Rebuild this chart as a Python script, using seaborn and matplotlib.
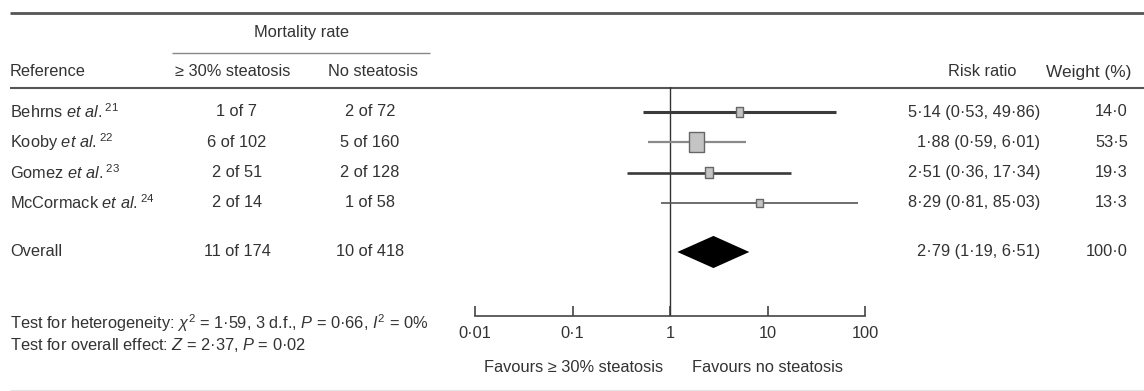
import numpy as np
import pandas as pd
import matplotlib
matplotlib.use("Agg")
import matplotlib.pyplot as plt
import matplotlib.transforms as mtransforms
import seaborn as sns

# data
studies = [r"Behrns $\mathit{et\ al.}{}^{21}$", r"Kooby $\mathit{et\ al.}{}^{22}$",
           r"Gomez $\mathit{et\ al.}{}^{23}$", r"McCormack $\mathit{et\ al.}{}^{24}$"]
events_steatosis = ["1 of 7", "6 of 102", "2 of 51", "2 of 14"]
events_none = ["2 of 72", "5 of 160", "2 of 128", "1 of 58"]
rr = [5.14, 1.88, 2.51, 8.29]
rr_low = [0.53, 0.59, 0.36, 0.81]
rr_high = [49.86, 6.01, 17.34, 85.03]
weight = [14.0, 53.5, 19.3, 13.3]

overall_events = ["11 of 174", "10 of 418"]
overall_rr = 2.79
overall_low = 1.19
overall_high = 6.51
overall_weight = 100.0

xticks = [0.01, 0.1, 1, 10, 100]
xtick_labels = ["0·01", "0·1", "1", "10", "100"]


def fmt(v):
    return f"{v:.2f}".replace(".", "·")


df = pd.DataFrame({"study": studies, "rr": rr, "low": rr_low, "high": rr_high,
                   "weight": weight, "row": np.arange(len(studies))})
overall_row = len(studies) + 0.62

sns.set_theme(style="white")
plt.rcParams["font.family"] = ["Liberation Sans", "DejaVu Sans"]
plt.rcParams["mathtext.fontset"] = "custom"
plt.rcParams["mathtext.rm"] = "Liberation Sans"
plt.rcParams["mathtext.it"] = "Liberation Sans:italic"
plt.rcParams["mathtext.bf"] = "Liberation Sans:bold"

W, H = 1144, 391
ink = "#333333"
fs = 11.8

fig = plt.figure(figsize=(W / 100, H / 100), dpi=100)
fig.patch.set_facecolor("white")

# background axes in pixel units for the table part
tab = fig.add_axes([0, 0, 1, 1])
tab.set_xlim(0, W)
tab.set_ylim(H, 0)
tab.axis("off")

# forest panel
x0, x1, ytop, ybot = 475, 865, 87, 316
ax = fig.add_axes([x0 / W, (H - ybot) / H, (x1 - x0) / W, (ybot - ytop) / H])
ax.set_facecolor("none")
ax.set_xscale("log")
ax.set_xlim(0.01, 100)
step = 30.3
ax.set_ylim((ybot - 112) / step, -(112 - ytop) / step)

lws = [2.2, 1.6, 1.9, 1.2]
lcols = ["#3a3a3a", "#8a8a8a", "#3a3a3a", "#555555"]
for r, lo, hi, lw, c in zip(df["row"], df["low"], df["high"], lws, lcols):
    ax.hlines(r, lo, hi, color=c, lw=lw, zorder=2)

box = [(-0.75, -1), (0.75, -1), (0.75, 1), (-0.75, 1), (-0.75, -1)]
sns.scatterplot(data=df, x="rr", y="row", size="weight", sizes=(40, 210),
                size_norm=(min(weight), max(weight)), marker=box,
                color="#c4c4c4", edgecolor="#666666", linewidth=1.0,
                legend=False, zorder=3, ax=ax)

h = 0.53
ax.fill([overall_low, overall_rr, overall_high, overall_rr],
        [overall_row, overall_row - h, overall_row, overall_row + h],
        color="black", lw=0, zorder=3)

ax.axvline(1, color=ink, lw=1.0, zorder=1)

for s in ["top", "left", "right"]:
    ax.spines[s].set_visible(False)
ax.spines["bottom"].set_color("#444444")
ax.spines["bottom"].set_linewidth(1.2)
ax.set_xticks(xticks)
ax.set_xticklabels(xtick_labels)
ax.minorticks_off()
ax.set_yticks([])
ax.tick_params(axis="x", direction="in", length=7, width=1.2, color="#444444",
               pad=7, labelsize=fs, labelcolor=ink, bottom=True)
ax.set_xlabel("")
ax.set_ylabel("")

# rules
tab.hlines(13, 10, W, color="#555555", lw=2.0)
tab.hlines(53, 172, 430, color="#888888", lw=1.0)
tab.hlines(88, 10, W, color="#555555", lw=1.5)
tab.hlines(390, 10, W, color="#e4e4e4", lw=0.8)

# headers
tab.text(301, 33, "Mortality rate", ha="center", va="center", fontsize=fs, color=ink)
tab.text(10, 72, "Reference", ha="left", va="center", fontsize=fs, color=ink)
tab.text(233, 72, "≥ 30% steatosis", ha="center", va="center", fontsize=fs, color=ink)
tab.text(373, 72, "No steatosis", ha="center", va="center", fontsize=fs, color=ink)
tab.text(982, 72, "Risk ratio", ha="center", va="center", fontsize=fs, color=ink)
tab.text(1046, 72, "Weight (%)", ha="left", va="center", fontsize=fs + 0.6, color=ink)

# table rows share the forest rows' y scale
tr = mtransforms.blended_transform_factory(tab.transData, ax.transData)
for i in range(len(studies)):
    r = df["row"][i]
    tab.text(10, r, studies[i], ha="left", va="center", fontsize=fs, color=ink, transform=tr)
    tab.text(237, r, events_steatosis[i], ha="center", va="center", fontsize=fs, color=ink, transform=tr)
    tab.text(370, r, events_none[i], ha="center", va="center", fontsize=fs, color=ink, transform=tr)
    tab.text(1040, r, f"{fmt(rr[i])} ({fmt(rr_low[i])}, {fmt(rr_high[i])})",
             ha="right", va="center", fontsize=fs, color=ink, transform=tr)
    tab.text(1128, r, f"{weight[i]:.1f}".replace(".", "·"), ha="right", va="center",
             fontsize=fs, color=ink, transform=tr)

tab.text(10, overall_row, "Overall", ha="left", va="center", fontsize=fs, color=ink, transform=tr)
tab.text(237, overall_row, overall_events[0], ha="center", va="center", fontsize=fs, color=ink, transform=tr)
tab.text(370, overall_row, overall_events[1], ha="center", va="center", fontsize=fs, color=ink, transform=tr)
tab.text(1040, overall_row, f"{fmt(overall_rr)} ({fmt(overall_low)}, {fmt(overall_high)})",
         ha="right", va="center", fontsize=fs, color=ink, transform=tr)
tab.text(1128, overall_row, f"{overall_weight:.1f}".replace(".", "·"), ha="right", va="center",
         fontsize=fs, color=ink, transform=tr)

# footer
tab.text(10, 323, r"Test for heterogeneity: $\chi^2$ = 1·59, 3 d.f., $\mathit{P}$ = 0·66, $\mathit{I}^2$ = 0%",
         ha="left", va="center", fontsize=fs, color=ink)
tab.text(10, 345, r"Test for overall effect: $\mathit{Z}$ = 2·37, $\mathit{P}$ = 0·02",
         ha="left", va="center", fontsize=fs, color=ink)
tab.text(663, 368, "Favours ≥ 30% steatosis", ha="right", va="center", fontsize=fs, color=ink)
tab.text(692, 368, "Favours no steatosis", ha="left", va="center", fontsize=fs, color=ink)

fig.savefig("out.png", dpi=100, facecolor="white")
